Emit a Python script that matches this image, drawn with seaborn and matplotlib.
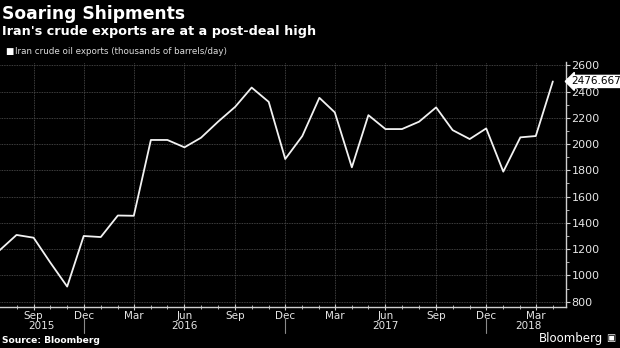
import matplotlib
matplotlib.use("Agg")
import matplotlib.pyplot as plt
import matplotlib.dates as mdates
import matplotlib.ticker as mticker
import numpy as np
import pandas as pd
import seaborn as sns

# Monthly Iranian crude oil exports, thousands of barrels per day
months = pd.date_range("2015-07-01", "2018-04-01", freq="MS")
exports = [1190, 1308, 1287, 1100, 915, 1300, 1292, 1456, 1454,
           2031, 2031, 1975, 2048, 2170, 2283, 2430, 2321, 1886,
           2061, 2352, 2241, 1823, 2220, 2114, 2114, 2170, 2279,
           2106, 2038, 2119, 1790, 2051, 2061, 2476.667]
y_ticks = [800, 1000, 1200, 1400, 1600, 1800, 2000, 2200, 2400, 2600]
year_labels = ["2015", "2016", "2017", "2018"]
year_label_dates = ["2015-09-15", "2016-06-01", "2017-06-01", "2018-02-15"]
year_breaks = ["2015-12-01", "2016-12-01", "2017-12-01"]

df = pd.DataFrame({"month": months, "exports": exports})

sns.set_theme(style="dark")
plt.rcParams["font.family"] = ["DejaVu Sans"]

fig = plt.figure(figsize=(6.2, 3.48), dpi=100, facecolor="black")
ax = fig.add_axes([0.0, 0.118, 0.913, 0.704])
ax.set_facecolor("black")

sns.lineplot(data=df, x="month", y="exports", ax=ax, color="#f2f2f2",
             linewidth=1.3, legend=False)

ax.set_xlim(pd.Timestamp("2015-07-02"), pd.Timestamp("2018-04-25"))
ax.set_ylim(760, 2625)

# Axes frame: only bottom and right spines
for side in ("top", "left"):
    ax.spines[side].set_visible(False)
for side in ("bottom", "right"):
    ax.spines[side].set_visible(True)
    ax.spines[side].set_color("#cfcfcf")
    ax.spines[side].set_linewidth(1.0)

# Y axis on the right
ax.yaxis.tick_right()
ax.set_yticks(y_ticks)
ax.yaxis.set_minor_locator(mticker.MultipleLocator(100))
ax.tick_params(axis="y", which="major", direction="out", length=3, width=0.8,
               color="#cfcfcf", labelcolor="#e6e6e6", labelsize=8, pad=1)
ax.tick_params(axis="y", which="minor", direction="out", length=2, width=0.6,
               color="#cfcfcf", right=True, left=False)

# X axis: quarterly labels, monthly minor ticks
ax.xaxis.set_major_locator(mdates.MonthLocator(bymonth=(3, 6, 9, 12)))
ax.xaxis.set_major_formatter(mdates.DateFormatter("%b"))
ax.xaxis.set_minor_locator(mdates.MonthLocator())
ax.tick_params(axis="x", which="major", direction="inout", length=4, width=0.8,
               color="#cfcfcf", labelcolor="#e6e6e6", labelsize=7.5, pad=1,
               bottom=True)
ax.tick_params(axis="x", which="minor", direction="inout", length=3, width=0.6,
               color="#cfcfcf", bottom=True)
ax.set_xlabel("")
ax.set_ylabel("")

ax.grid(True, which="major", axis="both", color="#555555", linestyle=(0, (1, 1)),
        linewidth=0.6)
ax.grid(False, which="minor")

# Year labels and separators below the month labels
for lab, d in zip(year_labels, year_label_dates):
    ax.text(mdates.date2num(pd.Timestamp(d)), -0.058, lab, transform=ax.get_xaxis_transform(),
            ha="center", va="top", color="#e6e6e6", fontsize=7.5)
for d in year_breaks:
    x = mdates.date2num(pd.Timestamp(d))
    ax.plot([x, x], [-0.045, -0.108], transform=ax.get_xaxis_transform(),
            color="#8a8a8a", linewidth=0.8, clip_on=False)

# Value callout for the latest reading
ax.annotate(f"{exports[-1]:.3f}", xy=(1.0, exports[-1]),
            xycoords=("axes fraction", "data"), xytext=(4, 0),
            textcoords="offset points", ha="left", va="center",
            fontsize=7.5, color="black",
            bbox=dict(boxstyle="larrow,pad=0.1", fc="white", ec="white"))

# Titles, legend key and footer
fig.text(0.004, 0.985, "Soaring Shipments", color="white", fontsize=12.3,
         fontweight="bold", ha="left", va="top")
fig.text(0.004, 0.927, "Iran's crude exports are at a post-deal high", color="white",
         fontsize=9.2, fontweight="bold", ha="left", va="top")
fig.text(0.008, 0.852, "\u25a0", color="white", fontsize=6.3, ha="left", va="center")
fig.text(0.024, 0.852, "Iran crude oil exports (thousands of barrels/day)",
         color="#dcdcdc", fontsize=6.3, ha="left", va="center")
fig.text(0.004, 0.01, "Source: Bloomberg", color="white", fontsize=6.6,
         fontweight="bold", ha="left", va="bottom")
fig.text(0.972, 0.01, "Bloomberg", color="white", fontsize=8.5,
         ha="right", va="bottom")
fig.text(0.978, 0.013, "\u25a3", color="white", fontsize=7, ha="left", va="bottom")

fig.savefig("out.png", dpi=100, facecolor="black")
